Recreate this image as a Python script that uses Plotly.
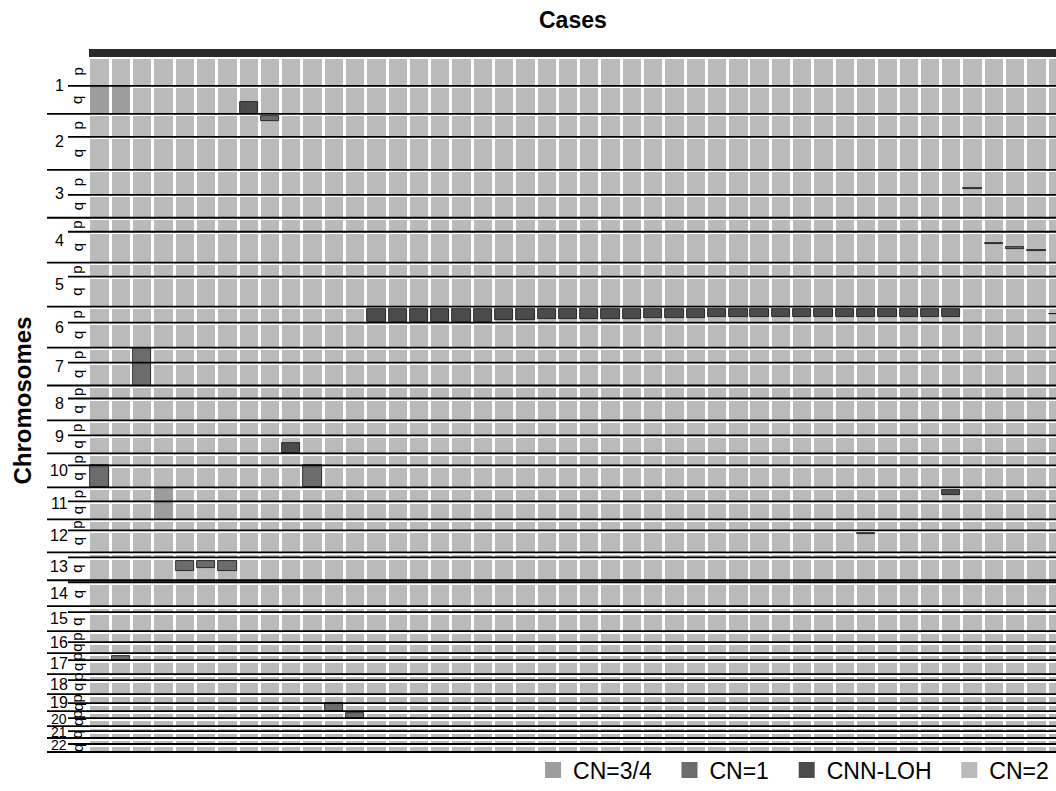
import plotly.graph_objects as go

# ---------------- data ----------------
n_cases = 46
arm_chrom = [1, 1, 2, 2, 3, 3, 4, 4, 5, 5, 6, 6, 7, 7, 8, 8, 9, 9, 10, 10, 11, 11,
             12, 12, 13, 13, 14, 14, 15, 15, 16, 16, 17, 17, 18, 18, 19, 19, 20, 20,
             21, 21, 22, 22]
arm_name = ["p", "q"] * 22
arm_size = [29, 28, 23, 33, 25, 23, 14, 31, 14, 30, 16, 25, 15, 23, 13, 22, 15, 18,
            12, 22, 14, 18, 11, 22, 5, 23, 2, 24, 6, 19, 11, 11, 7, 14, 6, 14, 9, 8,
            7, 8, 5, 7, 6, 8]
acrocentric = [13, 14, 15, 21, 22]

# segments: (case, start arm, start fraction, end arm, end fraction)
cn34_segments = [
    (0, "1q", 0.0, "1q", 1.0),
    (1, "1q", 0.0, "1q", 1.0),
    (3, "11p", 0.0, "11q", 1.0),
]
cn1_segments = [
    (2, "7p", 0.0, "7q", 1.0),
    (0, "10q", 0.0, "10q", 1.0),
    (10, "10q", 0.0, "10q", 1.0),
    (8, "2p", 0.09, "2p", 0.30),
    (4, "13q", 0.17, "13q", 0.61),
    (5, "13q", 0.17, "13q", 0.48),
    (6, "13q", 0.17, "13q", 0.61),
    (1, "17p", 0.40, "17p", 1.0),
    (11, "19q", 0.0, "19q", 0.95),
    (12, "20p", 0.30, "20p", 1.0),
    (41, "3p", 0.72, "3p", 0.75),
    (42, "4q", 0.36, "4q", 0.38),
    (43, "4q", 0.49, "4q", 0.55),
    (44, "4q", 0.59, "4q", 0.63),
    (36, "12q", 0.14, "12q", 0.16),
]
loh_6p_cases = list(range(13, 41))
loh_6p_end = [0.97, 0.97, 0.97, 0.97, 0.97, 0.97, 0.86, 0.86, 0.77, 0.77, 0.77, 0.77,
              0.77, 0.70, 0.70, 0.70, 0.66, 0.66, 0.66, 0.66, 0.64, 0.64, 0.64, 0.64,
              0.64, 0.64, 0.64, 0.64]
loh_segments = [
    (7, "1q", 0.57, "1q", 1.0),
    (9, "9q", 0.44, "9q", 1.0),
    (40, "11p", 0.21, "11p", 0.55),
    (45, "6p", 0.44, "6p", 0.49),
] + [(c, "6p", 0.14, "6p", e) for c, e in zip(loh_6p_cases, loh_6p_end)]

legend_names = ["CN=3/4", "CN=1", "CNN-LOH", "CN=2"]
colors = {"CN=3/4": "#9d9d9d", "CN=1": "#6c6c6c", "CNN-LOH": "#4b4b4b", "CN=2": "#bababa"}

# ---------------- geometry from data ----------------
arm_keys = [f"{c}{a}" for c, a in zip(arm_chrom, arm_name)]
arm_top = []
acc = 0
for s in arm_size:
    arm_top.append(acc)
    acc += s
total = acc
band = 8
y_lo, y_hi = -band, total

def gpos(arm, frac):
    i = arm_keys.index(arm)
    return arm_top[i] + frac * arm_size[i]

def ypaper(y):
    return 1 - (y - y_lo) / (y_hi - y_lo)

fig = go.Figure()

# background CN=2 cells
bx, bbase, bh = [], [], []
for i, s in enumerate(arm_size):
    gap = 2.5 if s > 4 else 1.0
    for c in range(n_cases):
        bx.append(c)
        bbase.append(arm_top[i] + gap)
        bh.append(s - gap)
fig.add_trace(go.Bar(x=bx, y=bh, base=bbase, width=0.86, name="CN=2",
                     marker=dict(color=colors["CN=2"], line=dict(width=0)),
                     showlegend=False, hoverinfo="skip"))

def seg_trace(segs, name, border):
    xs, bases, hs = [], [], []
    for c, a0, f0, a1, f1 in segs:
        y0 = gpos(a0, f0)
        y1 = gpos(a1, f1)
        xs.append(c)
        bases.append(y0)
        hs.append(y1 - y0)
    fig.add_trace(go.Bar(x=xs, y=hs, base=bases, width=0.86, name=name,
                         marker=dict(color=colors[name],
                                     line=dict(width=border, color="#111111")),
                         showlegend=False, hoverinfo="skip"))

seg_trace(cn34_segments, "CN=3/4", 0)
seg_trace(cn1_segments, "CN=1", 0.8)
seg_trace(loh_segments, "CNN-LOH", 0.8)

# legend entries (square keys)
pad = "\u00a0\u00a0"
for k, nm in enumerate(legend_names):
    fig.add_trace(go.Scatter(x=[None], y=[None], mode="markers",
                             name=nm + (pad if k < len(legend_names) - 1 else ""),
                             marker=dict(symbol="square", size=16, color=colors[nm],
                                         line=dict(width=0)),
                             legendrank=k + 1, hoverinfo="skip"))

shapes = []
# dark top band
shapes.append(dict(type="rect", xref="paper", yref="paper", x0=0, x1=1,
                   y0=ypaper(0), y1=ypaper(-band), fillcolor="#2a2a2a",
                   line=dict(width=0), layer="above"))
# boundary lines
chrom_left = (47 - 89) / 967
arm_left = (68 - 89) / 967
for i in range(1, len(arm_size)):
    yp = ypaper(arm_top[i])
    x0 = chrom_left if arm_name[i] == "p" else arm_left
    shapes.append(dict(type="line", xref="paper", yref="paper", x0=x0, x1=1,
                       y0=yp, y1=yp, line=dict(color="black", width=1.8)))
shapes.append(dict(type="line", xref="paper", yref="paper", x0=chrom_left, x1=1,
                   y0=ypaper(total), y1=ypaper(total),
                   line=dict(color="black", width=1.8)))

annotations = []
label_font = "Liberation Sans, Arial"
# chromosome numbers
for ch in sorted(set(arm_chrom)):
    idx = [i for i, c in enumerate(arm_chrom) if c == ch]
    y_mid = (arm_top[idx[0]] + arm_top[idx[-1]] + arm_size[idx[-1]]) / 2
    annotations.append(dict(x=(59 - 89) / 967, xref="paper", y=y_mid, yref="y",
                            text=str(ch), showarrow=False, xanchor="center",
                            yanchor="middle",
                            font=dict(family=label_font, size=16 if ch < 20 else 14,
                                      color="black")))
# arm labels
for i, (ch, a) in enumerate(zip(arm_chrom, arm_name)):
    if a == "p" and ch in acrocentric:
        continue
    y_mid = arm_top[i] + arm_size[i] / 2
    annotations.append(dict(x=(77 - 89) / 967, xref="paper", y=y_mid, yref="y",
                            text=a, showarrow=False, textangle=-90,
                            xanchor="center", yanchor="middle",
                            font=dict(family=label_font, size=15, color="black")))
# titles
annotations.append(dict(x=0.5, xref="paper", y=1 + (49 - 20) / 703, yref="paper",
                        text="<b>Cases</b>", showarrow=False, yanchor="middle",
                        font=dict(family=label_font, size=23, color="black")))
annotations.append(dict(x=(22 - 89) / 967, xref="paper", y=0.5, yref="paper",
                        text="<b>Chromosomes</b>", showarrow=False, textangle=-90,
                        xanchor="center", yanchor="middle",
                        font=dict(family=label_font, size=24, color="black")))

fig.update_layout(
    width=1056, height=791,
    margin=dict(l=89, r=0, t=49, b=39, autoexpand=False),
    paper_bgcolor="white", plot_bgcolor="white",
    barmode="overlay", bargap=0,
    xaxis=dict(range=[-0.5, 44.92], visible=False, fixedrange=True),
    yaxis=dict(range=[y_hi, y_lo], visible=False, fixedrange=True),
    shapes=shapes, annotations=annotations,
    showlegend=True,
    legend=dict(orientation="h", x=0.998, xanchor="right", y=-(770 - 752) / 703,
                yanchor="middle", font=dict(family="Liberation Sans, Arial", size=23,
                                             color="black"),
                itemwidth=30, itemsizing="trace", bgcolor="rgba(0,0,0,0)"),
)

fig.write_html("out.html", config={"displayModeBar": False},
               post_script="document.body.style.margin='0';document.body.style.padding='0';")
